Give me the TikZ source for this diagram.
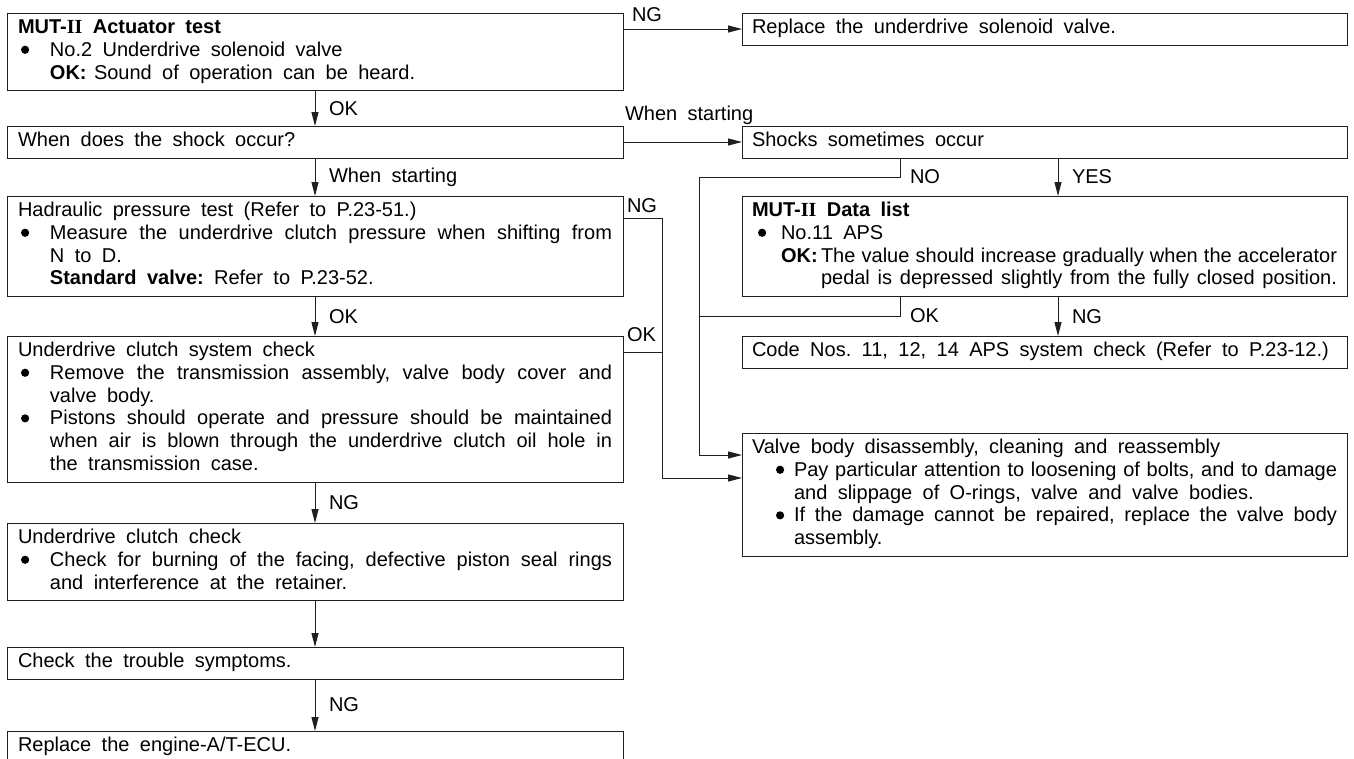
\documentclass[tikz,border=0pt]{standalone}
\usepackage{fontspec}
\setmainfont{Liberation Sans}
\newfontfamily\numeralfont{Liberation Serif}
\usetikzlibrary{arrows.meta}

\definecolor{linec}{gray}{0.12}

% body text: 20pt type on a 22.8pt line pitch
\newcommand\bodyfont{\fontsize{20pt}{22.8pt}\selectfont
  \parindent=0pt\parskip=0pt\relax}
% wide word spaces, as set in the text of the chart
\newcommand\wsp{\frenchspacing\spaceskip=10.4pt plus 12pt minus 6pt\relax}
% one line of a box (\rw = width of the text area of that box):
% natural (\rowN) or justified to the right margin (\rowJ)
\newcommand\rowN[2]{\makebox[\rw][l]{\wsp\strut\hspace*{#1}#2}\par}
\newcommand\rowJ[2]{\makebox[\rw][l]{\wsp\strut\hspace*{#1}%
  \makebox[\dimexpr\rw-#1\relax][s]{#2}}\par}
\newcommand\bulletmark{\tikz[x=1pt,y=1pt,baseline=0pt]\fill[black] (4.1,6.6) circle[radius=4.1];}
\newcommand\bul[1]{\llap{\makebox[#1][l]{\bulletmark}}}
\newcommand\okmark[1]{\makebox[#1][l]{\textbf{OK:}}}

\tikzset{
  box/.style={draw=linec, line width=1pt, inner xsep=11pt, inner ysep=4.6pt,
    outer sep=0pt, anchor=north west},
  lbox/.style={box, text width=594pt, font=\bodyfont\def\rw{594pt}},
  rbox/.style={box, inner xsep=10pt, text width=585pt, font=\bodyfont\def\rw{585pt}},
  tag/.style={font=\bodyfont\wsp, inner sep=0pt, outer sep=0pt},
  flow/.style={draw=linec, line width=1pt, -{Triangle[length=14pt,width=7pt]}},
  plain/.style={draw=linec, line width=1pt},
}

\begin{document}
\begin{tikzpicture}[x=1pt,y=-1pt]
\fill[white] (0,0) rectangle (1354,758);
\useasboundingbox (0,0) rectangle (1354,758);
\clip (0,0) rectangle (1354,758);

% ---------- left column ----------
\node[lbox] (b1) at (7,13) {%
  \rowN{0pt}{\textbf{MUT-{\numeralfont II} Actuator test}}
  \rowN{32pt}{\bul{29pt}No.2 Underdrive solenoid valve}
  \rowN{32pt}{\okmark{44pt}Sound of operation can be heard.}};

\node[lbox] (b2) at (7,126) {\rowN{0pt}{When does the shock occur?}};

\node[lbox] (b3) at (7,196) {%
  \rowN{0pt}{Hadraulic pressure test (Refer to P.23-51.)}
  \rowJ{32pt}{\bul{29pt}Measure the underdrive clutch pressure when shifting from}
  \rowN{32pt}{N to D.}
  \rowN{32pt}{\textbf{Standard valve:} Refer to P.23-52.}};

\node[lbox] (b4) at (7,336) {%
  \rowN{0pt}{Underdrive clutch system check}
  \rowJ{32pt}{\bul{29pt}Remove the transmission assembly, valve body cover and}
  \rowN{32pt}{valve body.}
  \rowJ{32pt}{\bul{29pt}Pistons should operate and pressure should be maintained}
  \rowJ{32pt}{when air is blown through the underdrive clutch oil hole in}
  \rowN{32pt}{the transmission case.}};

\node[lbox] (b5) at (7,523) {%
  \rowN{0pt}{Underdrive clutch check}
  \rowJ{32pt}{\bul{29pt}Check for burning of the facing, defective piston seal rings}
  \rowN{32pt}{and interference at the retainer.}};

\node[lbox] (b6) at (7,647) {\rowN{0pt}{Check the trouble symptoms.}};

\node[lbox] (b7) at (7,731) {\rowN{0pt}{Replace the engine-A/T-ECU.}};

% ---------- right column ----------
\node[rbox] (r1) at (742,13) {\rowN{0pt}{Replace the underdrive solenoid valve.}};

\node[rbox] (r2) at (742,126) {\rowN{0pt}{Shocks sometimes occur}};

\node[rbox] (r3) at (742,196) {%
  \rowN{0pt}{\textbf{MUT-{\numeralfont II} Data list}}
  \rowN{29pt}{\bul{23pt}No.11 APS}
  \rowJ{29pt}{\okmark{40pt}The value should increase gradually when the accelerator}
  \rowJ{69pt}{pedal is depressed slightly from the fully closed position.}};

\node[rbox] (r4) at (742,336) {\rowN{0pt}{Code Nos. 11, 12, 14 APS system check (Refer to P.23-12.)}};

\node[rbox] (r5) at (742,433) {%
  \rowN{0pt}{Valve body disassembly, cleaning and reassembly}
  \rowJ{42pt}{\bul{18pt}Pay particular attention to loosening of bolts, and to damage}
  \rowN{42pt}{and slippage of O-rings, valve and valve bodies.}
  \rowJ{42pt}{\bul{18pt}If the damage cannot be repaired, replace the valve body}
  \rowN{42pt}{assembly.}};

% ---------- routing points ----------
\coordinate (noX)   at (900,177);
\coordinate (loopX) at (699,177);
\coordinate (yesX)  at (1058,0);
\coordinate (okX)   at (900,316);
\coordinate (ngX)   at (662,218);
\coordinate (okJoin) at (662,352);
\coordinate (inA)   at (742,455);
\coordinate (inB)   at (742,478);

% ---------- main chain ----------
\draw[flow] (b1.east |- r1.west) -- (r1.west);
\node[tag, anchor=base west] (tNG1) at (632,21) {NG};

\draw[flow] (b1.south) -- node[tag, right=14pt] (tOK1) {OK} (b2.north);

\draw[flow] (b2.east) -- (r2.west);
\node[tag, anchor=base west] (tWS1) at (625,120) {When starting};

\draw[flow] (b2.south) -- node[tag, right=14pt] (tWS2) {When starting} (b3.north);
\draw[flow] (b3.south) -- node[tag, right=14pt] (tOK2) {OK} (b4.north);
\draw[flow] (b4.south) -- node[tag, right=14pt] (tNG2) {NG} (b5.north);
\draw[flow] (b5.south) -- (b6.north);
\draw[flow] (b6.south) -- node[tag, right=14pt] (tNG3) {NG} (b7.north);

% ---------- right branch ----------
\draw[flow] (r2.south -| yesX) -- node[tag, right=14pt] (tYES) {YES} (r3.north -| yesX);
\draw[flow] (r3.south -| yesX) -- node[tag, right=14pt] (tNG4) {NG} (r4.north -| yesX);

\draw[flow] (r2.south -| noX) -- (noX) -- (loopX) |- (inA);
\node[tag, anchor=west] (tNO) at (910,177) {NO};

\draw[plain] (r3.south -| okX) -- (okX) -- (loopX |- okX);
\node[tag, anchor=west] (tOK3) at (910,316) {OK};

% ---------- links into the valve body box ----------
\draw[flow] (b3.east |- ngX) -- (ngX) |- (inB);
\node[tag, anchor=base west] (tNG5) at (627,212) {NG};

\draw[plain] (b4.east |- okJoin) -- (okJoin);
\node[tag, anchor=base west] (tOK4) at (627,341) {OK};
\end{tikzpicture}
\end{document}
